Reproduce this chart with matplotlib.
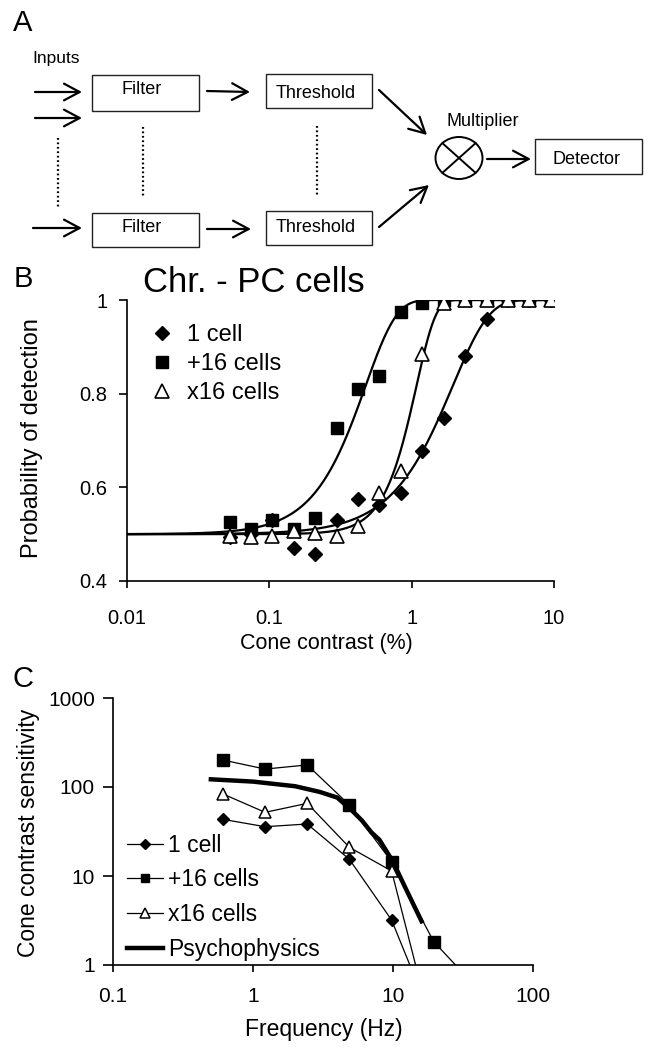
import numpy as np
import matplotlib
matplotlib.use('Agg')
import matplotlib.pyplot as plt
from matplotlib.patches import Rectangle, Ellipse

plt.rcParams['font.family'] = ['Liberation Sans', 'DejaVu Sans']

# ---- panel B data (probability of detection vs cone contrast) ----
contrast = [0.0525, 0.074, 0.105, 0.148, 0.21, 0.297, 0.42, 0.594,
            0.84, 1.19, 1.68, 2.38, 3.36, 4.75, 6.72, 9.5]
p_one = [0.494, 0.50, 0.530, 0.471, 0.458, 0.530, 0.575, 0.562,
         0.587, 0.677, 0.747, 0.880, 0.959, 1.0, 1.0, 1.0]
p_plus16 = [0.526, 0.512, 0.530, 0.510, 0.535, 0.726, 0.811, 0.837,
            0.975, 0.993, 1.0, 1.0, 1.0, 1.0, 1.0, 1.0]
p_times16 = [0.496, 0.494, 0.496, 0.506, 0.503, 0.496, 0.517, 0.587,
             0.634, 0.884, 0.993, 1.0, 1.0, 1.0, 1.0, 1.0]

# Weibull fits (alpha, beta)
fit_one = [1.94, 1.7]
fit_plus16 = [0.474, 2.0]
fit_times16 = [1.08, 3.2]

# ---- panel C data (cone contrast sensitivity vs frequency) ----
freq = [0.61, 1.22, 2.44, 4.88, 9.77, 19.53, 39.06]
sens_one = [43.3, 35.8, 38.4, 15.4, 3.2, 0.22]
sens_plus16 = [201, 159, 177, 62.8, 14.5, 1.83, 0.57]
sens_times16 = [83.5, 51.9, 65.5, 21.0, 11.4, 0.16]
psy_freq = [0.5, 1, 2, 3, 4, 5, 6, 7, 8, 10, 12, 16]
psy_sens = [122, 115, 102, 88, 76, 56, 42, 31, 25.5, 14.5, 7.9, 3.1]

W, H = 652, 1049
fig = plt.figure(figsize=(W / 100, H / 100), dpi=100)

# background axes in pixel coordinates for the diagram and panel letters
bg = fig.add_axes([0, 0, 1, 1], zorder=0)
bg.set_xlim(0, W)
bg.set_ylim(H, 0)
bg.axis('off')

for lab, (x, y) in zip(['A', 'B', 'C'], [(23, 23), (23, 279), (23, 679)]):
    bg.text(x, y, lab, fontsize=21, ha='center', va='center')

# ---- panel A: block diagram ----
box_kw = dict(fill=False, edgecolor='#222222', lw=1.0)
boxes = [(92, 75, 107, 36, 'Filter', 142, 90),
         (266, 74, 106, 34, 'Threshold', 316, 93),
         (92, 213, 107, 34, 'Filter', 142, 228),
         (266, 211, 106, 34, 'Threshold', 316, 227),
         (535, 139, 107, 35, 'Detector', 586, 160)]
for x, y, w, h, t, tx, ty in boxes:
    bg.add_patch(Rectangle((x, y), w, h, **box_kw))
    bg.text(tx, ty, t, fontsize=13, ha='center', va='center')

bg.text(32, 58, 'Inputs', fontsize=12.5, ha='left', va='center')
bg.text(483, 122, 'Multiplier', fontsize=13, ha='center', va='center')

arrow_kw = dict(arrowstyle='->,head_length=0.75,head_width=0.4', lw=1.6,
                color='black', mutation_scale=15, shrinkA=0, shrinkB=0)
arrows = [((35, 92), (82, 92)), ((35, 118), (82, 118)), ((33, 228), (82, 228)),
          ((207, 91), (250, 92)), ((207, 229), (251, 229)),
          ((379, 90), (427, 135)), ((379, 227), (429, 185)),
          ((487, 159), (531, 159))]
for a, b in arrows:
    bg.annotate('', xy=b, xytext=a, arrowprops=arrow_kw)

for x, y0, y1 in [(58, 138, 207), (143, 127, 196), (317, 126, 195)]:
    bg.plot([x, x], [y0, y1], color='black', lw=1.6, dashes=(0.8, 1.2))

cx, cy, ew, eh = 459, 158, 47, 42
bg.add_patch(Ellipse((cx, cy), ew, eh, fill=False, edgecolor='black', lw=1.4))
dx, dy = ew / 2 * 0.707, eh / 2 * 0.707
bg.plot([cx - dx, cx + dx], [cy - dy, cy + dy], color='black', lw=1.4)
bg.plot([cx - dx, cx + dx], [cy + dy, cy - dy], color='black', lw=1.4)


def px_axes(left, top, right, bottom):
    return fig.add_axes([left / W, 1 - bottom / H, (right - left) / W, (bottom - top) / H],
                        facecolor='none', zorder=2)


# ---- panel B ----
axb = px_axes(127, 300, 554, 581)
cc = np.logspace(-2, 1, 400)
for (a, b) in [fit_plus16, fit_times16, fit_one]:
    axb.plot(cc, 1 - 0.5 * np.exp(-(cc / a) ** b), color='black', lw=1.6, zorder=2)

axb.plot(contrast, p_one, ls='none', marker='D', ms=7, color='black', label='1 cell', zorder=3)
axb.plot(contrast, p_plus16, ls='none', marker='s', ms=8, color='black', label='+16 cells', zorder=3)
axb.plot(contrast, p_times16, ls='none', marker='^', ms=9.5, mfc='white', mec='black', mew=1.2,
         label='x16 cells', zorder=4)

axb.set_xscale('log')
axb.set_xlim(0.01, 10)
axb.set_ylim(0.4, 1.0)
axb.set_xticks([0.01, 0.1, 1, 10], ['0.01', '0.1', '1', '10'])
axb.set_yticks([0.4, 0.6, 0.8, 1.0], ['0.4', '0.6', '0.8', '1'])
axb.minorticks_off()
axb.tick_params(axis='x', direction='out', length=5, width=1.2, pad=15, labelsize=14.5)
axb.tick_params(axis='y', direction='out', length=6, width=1.2, pad=8, labelsize=14.5)
for s in ['top', 'right']:
    axb.spines[s].set_visible(False)
for s in ['left', 'bottom']:
    axb.spines[s].set_linewidth(1.2)
axb.set_ylabel('Probability of detection', fontsize=17, va='center')
axb.yaxis.set_label_coords(-0.2225, 0.51)
axb.set_xlabel('Cone contrast (%)', fontsize=15.5, va='center')
axb.xaxis.set_label_coords(0.468, -0.221)
axb.legend(loc='upper left', bbox_to_anchor=(0.06, 0.915), frameon=False, fontsize=17,
           handlelength=0.8, handletextpad=0.66, borderpad=0, borderaxespad=0,
           labelspacing=0.3)
fig.text(143 / W, 1 - 292 / H, 'Chr. - PC cells', fontsize=25, ha='left', va='baseline')

# ---- panel C ----
axc = px_axes(113, 698, 533, 965)
axc.plot(freq[:len(sens_one)], sens_one, color='black', lw=0.9, marker='D', ms=6.5,
         label='1 cell', zorder=3)
axc.plot(freq, sens_plus16, color='black', lw=0.9, marker='s', ms=8,
         label='+16 cells', zorder=3)
axc.plot(freq[:len(sens_times16)], sens_times16, color='black', lw=0.9, marker='^', ms=9,
         mfc='white', mec='black', mew=1.1, label='x16 cells', zorder=4)
axc.plot(psy_freq, psy_sens, color='black', lw=3.2, label='Psychophysics', zorder=2)

axc.set_xscale('log')
axc.set_yscale('log')
axc.set_xlim(0.1, 100)
axc.set_ylim(1, 1000)
axc.set_xticks([0.1, 1, 10, 100], ['0.1', '1', '10', '100'])
axc.set_yticks([1, 10, 100, 1000], ['1', '10', '100', '1000'])
axc.minorticks_off()
axc.tick_params(axis='x', direction='out', length=5, width=1.2, pad=11, labelsize=15)
axc.tick_params(axis='y', direction='out', length=7, width=1.2, pad=6, labelsize=15)
for s in ['top', 'right']:
    axc.spines[s].set_visible(False)
for s in ['left', 'bottom']:
    axc.spines[s].set_linewidth(1.2)
axc.set_ylabel('Cone contrast sensitivity', fontsize=16.5, va='center')
axc.yaxis.set_label_coords(-0.202, 0.494)
axc.set_xlabel('Frequency (Hz)', fontsize=16.5, va='center')
axc.xaxis.set_label_coords(0.502, -0.24)
axc.legend(loc='upper left', bbox_to_anchor=(0.033, 0.492), frameon=False, fontsize=16.5,
           handlelength=1.57, handletextpad=0.22, borderpad=0, borderaxespad=0,
           labelspacing=0.51, markerscale=0.8)

fig.savefig('out.png', dpi=100)
